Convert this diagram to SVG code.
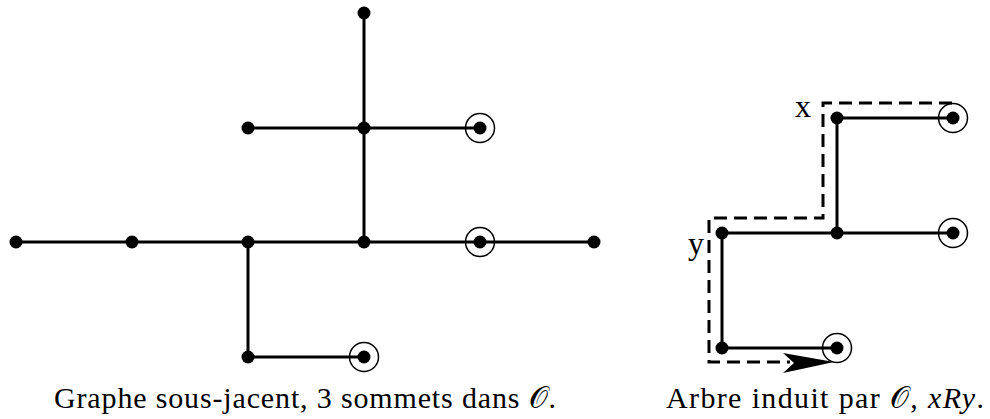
<svg xmlns="http://www.w3.org/2000/svg" width="990" height="419" viewBox="0 0 990 419">
<style>
.e{stroke:#000;stroke-width:3;fill:none}
.d{fill:#000}
.o{fill:none;stroke:#000;stroke-width:1.5}
.dash{stroke:#000;stroke-width:3;fill:none;stroke-dasharray:13 7}
.t{font-family:"Liberation Serif","DejaVu Serif",serif;font-size:30px;fill:#000}
.l{font-family:"Liberation Serif","DejaVu Serif",serif;font-size:32px;fill:#000}
.i{font-style:italic}
</style>
<rect width="990" height="419" fill="#fff"/>
<g id="connectors">
<line class="e" x1="364" y1="13" x2="364" y2="242"/>
<line class="e" x1="248" y1="128" x2="480" y2="128"/>
<line class="e" x1="16" y1="242" x2="594" y2="242"/>
<line class="e" x1="248" y1="242" x2="248" y2="357"/>
<line class="e" x1="248" y1="357" x2="364" y2="357"/>
<line class="e" x1="837" y1="118" x2="953" y2="118"/>
<line class="e" x1="837" y1="118" x2="837" y2="233"/>
<line class="e" x1="722" y1="233" x2="953" y2="233"/>
<line class="e" x1="722" y1="233" x2="722" y2="348"/>
<line class="e" x1="722" y1="348" x2="837" y2="348"/>
<polyline class="dash" points="952,103 823,103 823,218 709,218 709,362 790,362"/>
<path d="M834,362 L783,353 L794,363 L783,373 Z" fill="#000"/>
</g>
<g id="n1"><circle class="d" cx="364" cy="13" r="6.5"/></g>
<g id="n2"><circle class="d" cx="248" cy="128" r="6.5"/></g>
<g id="n3"><circle class="d" cx="364" cy="128" r="6.5"/></g>
<g id="n4"><circle class="d" cx="480" cy="128" r="6.5"/><circle class="o" cx="480" cy="128" r="14.5"/></g>
<g id="n5"><circle class="d" cx="16" cy="242" r="6.5"/></g>
<g id="n6"><circle class="d" cx="132" cy="242" r="6.5"/></g>
<g id="n7"><circle class="d" cx="248" cy="242" r="6.5"/></g>
<g id="n8"><circle class="d" cx="364" cy="242" r="6.5"/></g>
<g id="n9"><circle class="d" cx="480" cy="242" r="6.5"/><circle class="o" cx="480" cy="242" r="14.5"/></g>
<g id="n10"><circle class="d" cx="594" cy="242" r="6.5"/></g>
<g id="n11"><circle class="d" cx="248" cy="357" r="6.5"/></g>
<g id="n12"><circle class="d" cx="364" cy="357" r="6.5"/><circle class="o" cx="364" cy="357" r="14.5"/></g>
<g id="m1"><circle class="d" cx="837" cy="118" r="6.5"/><text class="l" x="795" y="117">x</text></g>
<g id="m2"><circle class="d" cx="953" cy="118" r="6.5"/><circle class="o" cx="953" cy="118" r="14.5"/></g>
<g id="m3"><circle class="d" cx="722" cy="233" r="6.5"/><text class="l" x="688" y="254">y</text></g>
<g id="m4"><circle class="d" cx="837" cy="233" r="6.5"/></g>
<g id="m5"><circle class="d" cx="953" cy="233" r="6.5"/><circle class="o" cx="953" cy="233" r="14.5"/></g>
<g id="m6"><circle class="d" cx="722" cy="348" r="6.5"/></g>
<g id="m7"><circle class="d" cx="837" cy="348" r="6.5"/><circle class="o" cx="837" cy="348" r="14.5"/></g>
<text class="t" x="54" y="408" textLength="502" lengthAdjust="spacing">Graphe sous-jacent, 3 sommets dans 𝒪.</text>
<text class="t" x="666" y="408" textLength="318" lengthAdjust="spacing">Arbre induit par 𝒪, <tspan class="i">xRy</tspan>.</text>
</svg>
